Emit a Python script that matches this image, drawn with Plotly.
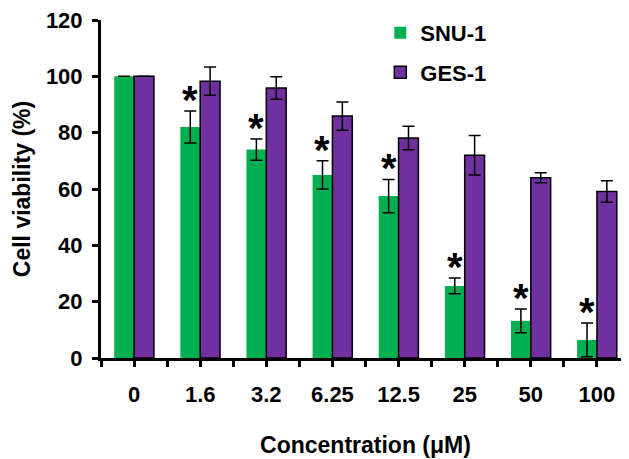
import plotly.graph_objects as go

# ---- data ----
concentrations = ["0", "1.6", "3.2", "6.25", "12.5", "25", "50", "100"]
snu1_mean = [100, 82, 74, 65, 57.5, 25.6, 13.2, 6.4]
snu1_sd = [0, 5.7, 3.8, 5.0, 5.9, 2.8, 4.2, 6.0]
ges1_mean = [100, 98.3, 95.9, 85.9, 78.1, 72.0, 64.0, 59.1]
ges1_sd = [0, 5.0, 4.0, 5.0, 4.2, 7.0, 1.8, 3.8]
significant = [False, True, True, True, True, True, True, True]

FONT = "Liberation Sans, Arial, sans-serif"
GREEN = "#00B050"
PURPLE = "#7030A0"

xpos = list(range(len(concentrations)))

fig = go.Figure()
fig.add_trace(go.Bar(
    x=xpos, y=snu1_mean, name="SNU-1", legendgroup="a",
    marker=dict(color=GREEN, line=dict(width=0)),
    error_y=dict(type="data", array=snu1_sd, visible=True, color="black",
                 thickness=1.5, width=6),
))
fig.add_trace(go.Bar(
    x=xpos, y=ges1_mean, name="GES-1", legendgroup="b",
    marker=dict(color=PURPLE, line=dict(width=1.5, color="black")),
    error_y=dict(type="data", array=ges1_sd, visible=True, color="black",
                 thickness=1.5, width=6),
))

# significance asterisks above SNU-1 error bars
for i, sig in enumerate(significant):
    if sig:
        fig.add_annotation(
            x=i, y=snu1_mean[i] + snu1_sd[i], xref="x", yref="y",
            xshift=-10, yshift=-13, yanchor="bottom",
            text="*", showarrow=False,
            font=dict(family=FONT, size=40, color="black", weight="bold"),
        )

fig.update_layout(
    width=629, height=459,
    margin=dict(l=93, r=7, t=12, b=109, autoexpand=False),
    paper_bgcolor="white", plot_bgcolor="white",
    barmode="group", bargap=0.4, bargroupgap=0,
    showlegend=True,
    legend=dict(x=0.528, y=1.024, xanchor="left", yanchor="top",
                font=dict(family=FONT, size=22, color="black", weight="bold"),
                tracegroupgap=8, traceorder="grouped",
                bgcolor="rgba(0,0,0,0)"),
    font=dict(family=FONT, color="black"),
)

fig.update_xaxes(
    automargin=False,
    tickmode="array", tickvals=xpos, ticktext=concentrations,
    range=[-0.5, len(concentrations) - 0.5],
    showline=True, linecolor="black", linewidth=3,
    ticks="outside", ticklen=6, tickwidth=3, tickcolor="black",
    minor=dict(tickmode="linear", tick0=-0.5, dtick=1, ticks="outside",
               ticklen=6, tickwidth=3, tickcolor="black"),
    showgrid=False, zeroline=False,
    tickfont=dict(family=FONT, size=22, color="black", weight="bold"),
    ticklabelstandoff=9, ticklabeloverflow="allow",
    title=dict(text="Concentration (μM)", standoff=31,
               font=dict(family=FONT, size=23, color="black", weight="bold")),
)
fig.update_yaxes(
    automargin=False,
    range=[0, 120.01], tickmode="array", tickvals=[0, 20, 40, 60, 80, 100, 120],
    showline=True, linecolor="black", linewidth=3,
    ticks="outside", ticklen=6, tickwidth=3, tickcolor="black",
    showgrid=False, zeroline=False,
    tickfont=dict(family=FONT, size=22, color="black", weight="bold"),
    ticklabelstandoff=5, ticklabeloverflow="allow",
    title=dict(text="Cell viability (%)", standoff=9,
               font=dict(family=FONT, size=23, color="black", weight="bold")),
)

fig.write_html("out.html")
